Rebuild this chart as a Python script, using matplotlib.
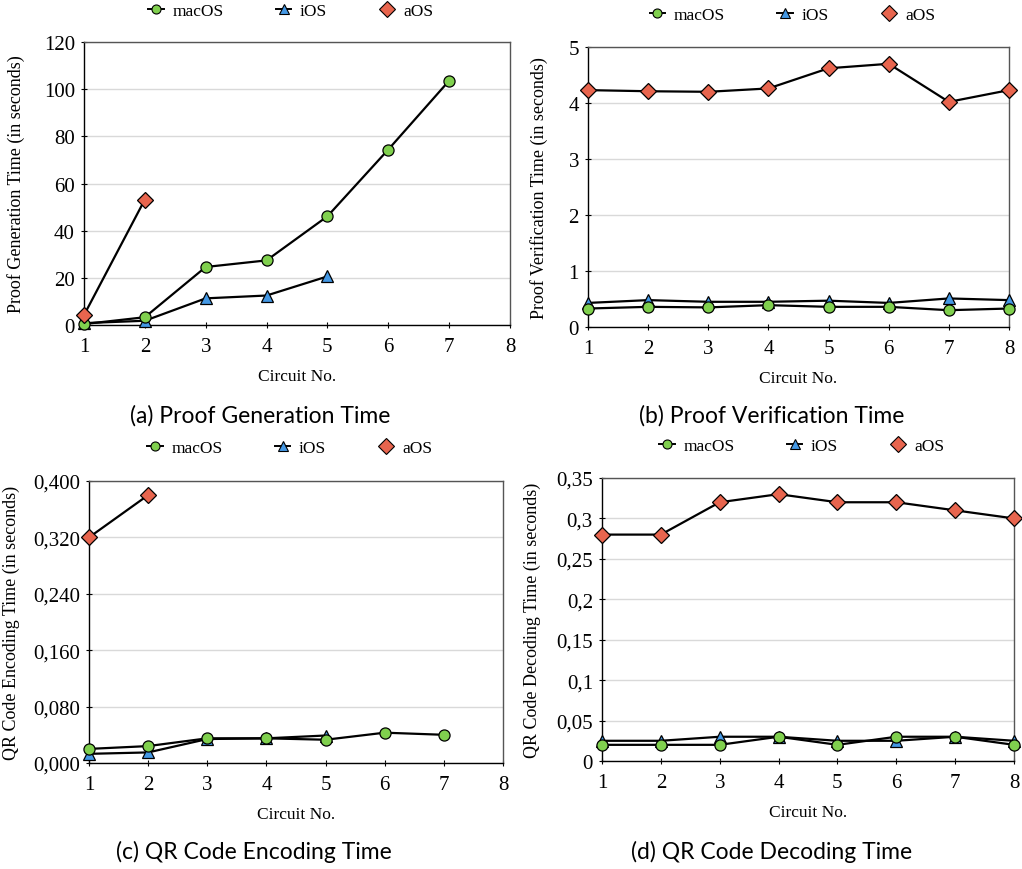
import matplotlib
matplotlib.use('Agg')
import matplotlib.pyplot as plt
from matplotlib.lines import Line2D
from matplotlib.ticker import FuncFormatter

plt.rcParams['font.family'] = ['Liberation Serif', 'DejaVu Serif']

circuits = [1, 2, 3, 4, 5, 6, 7, 8]

# (a) proof generation time, seconds
gen_mac = [0.4, 3.3, 24.6, 27.4, 46.1, 74.4, 103.6]
gen_ios = [0.8, 1.8, 11.3, 12.5, 20.6]
gen_aos = [4.2, 53.2]

# (b) proof verification time, seconds
ver_mac = [0.33, 0.36, 0.35, 0.39, 0.36, 0.36, 0.30, 0.33]
ver_ios = [0.43, 0.48, 0.45, 0.45, 0.47, 0.43, 0.51, 0.48]
ver_aos = [4.23, 4.21, 4.20, 4.26, 4.62, 4.70, 4.02, 4.23]

# (c) QR code encoding time, seconds
enc_mac = [0.020, 0.024, 0.035, 0.035, 0.033, 0.043, 0.040]
enc_ios = [0.013, 0.015, 0.034, 0.035, 0.039]
enc_aos = [0.320, 0.380]

# (d) QR code decoding time, seconds
dec_mac = [0.02, 0.02, 0.02, 0.03, 0.02, 0.03, 0.03, 0.02]
dec_ios = [0.025, 0.025, 0.03, 0.03, 0.025, 0.025, 0.03, 0.025]
dec_aos = [0.28, 0.28, 0.32, 0.33, 0.32, 0.32, 0.31, 0.30]

GREEN, BLUE, RED = '#80d04e', '#4498e4', '#e8654e'

fig = plt.figure(figsize=(10.22, 8.7), dpi=100)


def comma(fmt):
    return FuncFormatter(lambda v, p: fmt(v).replace('.', ','))


def panel(rect, mac, ios, aos, ylim, yticks, ylabel, caption, cap_xy,
          leg_y, ylab_x, yfmt=None):
    ax = fig.add_axes(rect)
    ax.grid(axis='y', color='#d9d9d9', linewidth=1.0)
    ax.set_axisbelow(True)
    kw = dict(color='black', linewidth=1.6, markeredgecolor='black',
              markeredgewidth=0.9, clip_on=False, zorder=3)
    ax.plot(circuits[:len(ios)], ios, marker='^', markersize=9,
            markerfacecolor=BLUE, **kw)
    ax.plot(circuits[:len(mac)], mac, marker='o', markersize=8,
            markerfacecolor=GREEN, **kw)
    ax.plot(circuits[:len(aos)], aos, marker='D', markersize=8.5,
            markerfacecolor=RED, **kw)
    ax.set_xlim(1, 8)
    ax.set_xticks(circuits)
    ax.set_ylim(*ylim)
    ax.set_yticks(yticks)
    if yfmt is not None:
        ax.yaxis.set_major_formatter(yfmt)
    ax.tick_params(axis='both', labelsize=15, direction='inout',
                   length=5, width=0.8, pad=4)
    ax.tick_params(axis='x', pad=6)
    for side in ('left', 'bottom'):
        ax.spines[side].set_color('black')
        ax.spines[side].set_linewidth(1.0)
    for side in ('top', 'right'):
        ax.spines[side].set_color('#555555')
        ax.spines[side].set_linewidth(1.0)
    ax.set_xlabel('Circuit No.', fontsize=12.5, labelpad=9)
    ax.set_ylabel(ylabel, fontsize=13)
    x0, y0, w, h = rect
    ax.yaxis.set_label_coords(ylab_x, y0 + h / 2, transform=fig.transFigure)

    handles = [
        Line2D([], [], color='black', linewidth=1.4, marker='o',
               markersize=6.5, markerfacecolor=GREEN, markeredgecolor='black',
               markeredgewidth=0.8),
        Line2D([], [], color='black', linewidth=1.4, marker='^',
               markersize=7, markerfacecolor=BLUE, markeredgecolor='black',
               markeredgewidth=0.8),
        Line2D([], [], color='none', marker='D',
               markersize=8, markerfacecolor=RED, markeredgecolor='black',
               markeredgewidth=0.8),
    ]
    fig.legend(handles, ['macOS', 'iOS', 'aOS'], loc='center',
               bbox_to_anchor=(x0 + w / 2 - 6 / W, leg_y), ncol=3,
               frameon=False, fontsize=12.5, handlelength=0.9,
               handletextpad=0.5, columnspacing=3.0)
    fig.text(cap_xy[0], cap_xy[1], caption, fontsize=16.5, family='Lato',
             ha='center', va='center')
    return ax


W, H = 1022, 870


def rect(l, r, t, b):
    return [l / W, (H - b) / H, (r - l) / W, (b - t) / H]


panel(rect(84, 510, 43, 326), gen_mac, gen_ios, gen_aos, (0, 120),
      [0, 20, 40, 60, 80, 100, 120], 'Proof Generation Time (in seconds)',
      '(a) Proof Generation Time', (260 / W, 1 - 416 / H), 1 - 12 / H,
      25 / W)

panel(rect(588, 1009, 48, 328), ver_mac, ver_ios, ver_aos, (0, 5),
      [0, 1, 2, 3, 4, 5], 'Proof Verification Time (in seconds)',
      '(b) Proof Verification Time', (772 / W, 1 - 416 / H), 1 - 16 / H,
      548 / W)

panel(rect(89, 503, 482, 764), enc_mac, enc_ios, enc_aos, (0, 0.4),
      [0, 0.08, 0.16, 0.24, 0.32, 0.40], 'QR Code Encoding Time (in seconds)',
      '(c) QR Code Encoding Time', (254 / W, 1 - 852 / H), 1 - 449 / H,
      20 / W, yfmt=comma(lambda v: '%.3f' % v))

panel(rect(602, 1014, 479, 762), dec_mac, dec_ios, dec_aos, (0, 0.35),
      [0, 0.05, 0.1, 0.15, 0.2, 0.25, 0.3, 0.35],
      'QR Code Decoding Time (in seconds)',
      '(d) QR Code Decoding Time', (772 / W, 1 - 852 / H), 1 - 447 / H,
      541 / W, yfmt=comma(lambda v: '%g' % round(v, 2)))

fig.savefig('out.png', dpi=100)
